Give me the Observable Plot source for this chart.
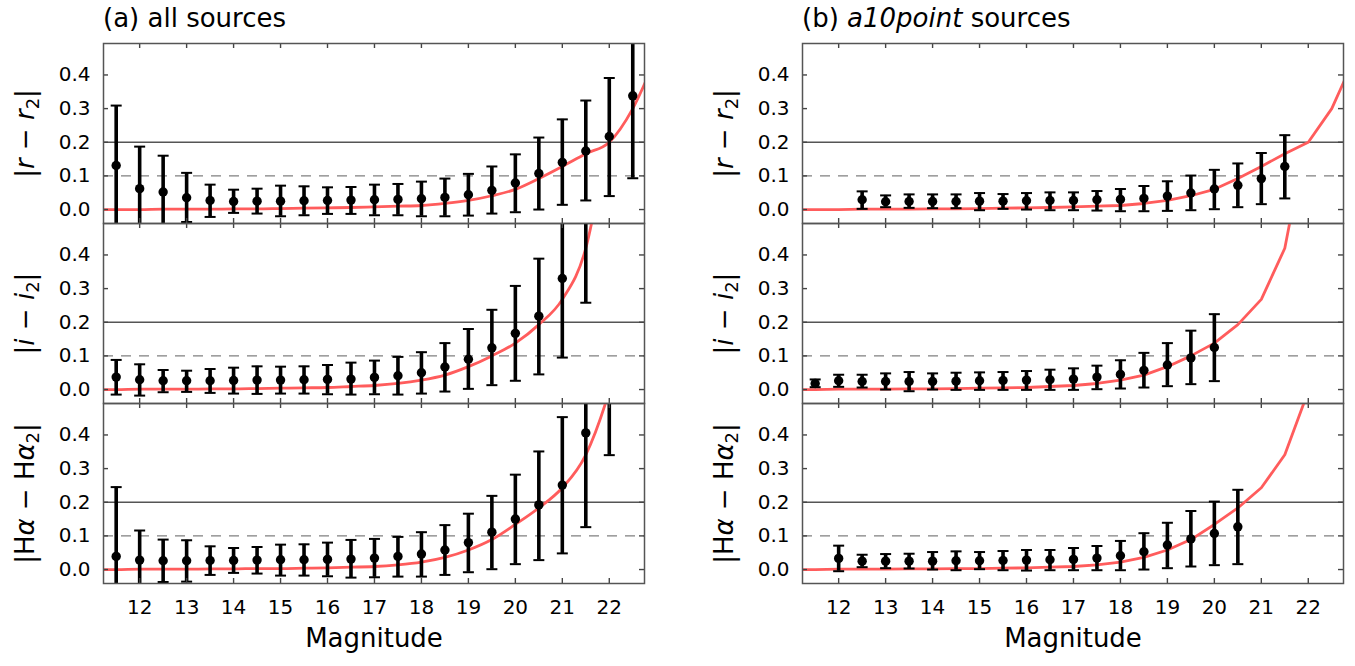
<!DOCTYPE html>
<html><head><meta charset="utf-8">
<script src="https://cdn.jsdelivr.net/npm/d3@7"></script>
<script src="https://cdn.jsdelivr.net/npm/@observablehq/plot@0.6"></script>
<style>
body{margin:0;background:#fff;}
#fig{position:relative;width:1355px;height:666px;font-family:"DejaVu Sans",sans-serif;color:#000;overflow:hidden;}
.title{position:absolute;font-size:26px;line-height:26px;white-space:nowrap;}
.panel{position:absolute;}
</style></head><body><div id="fig"></div>
<script>
// ---------- data ----------
const xTicks = [12, 13, 14, 15, 16, 17, 18, 19, 20, 21, 22];
const yTicks = [0, 0.1, 0.2, 0.3, 0.4];

// model curves (sampled every 0.5 mag)
const curveMag = [11, 11.5, 12, 12.5, 13, 13.5, 14, 14.5, 15, 15.5, 16, 16.5, 17, 17.5, 18, 18.5, 19, 19.5, 20, 20.5, 21, 21.5, 22, 22.5, 23];
const rCurve = [0, 0, 0, 0.001, 0.001, 0.001, 0.002, 0.002, 0.003, 0.004, 0.005, 0.006, 0.008, 0.010, 0.012, 0.018, 0.027, 0.041, 0.060, 0.092, 0.128, 0.166, 0.200, 0.300, 0.455];
const iCurve = [0, 0, 0.001, 0.001, 0.001, 0.002, 0.002, 0.003, 0.004, 0.005, 0.006, 0.009, 0.012, 0.018, 0.028, 0.043, 0.068, 0.100, 0.138, 0.193, 0.268, 0.420, 0.780, 1.2, 1.8];
const hCurve = [0, 0, 0.001, 0.001, 0.001, 0.002, 0.002, 0.003, 0.003, 0.004, 0.005, 0.007, 0.009, 0.014, 0.022, 0.036, 0.058, 0.089, 0.134, 0.183, 0.243, 0.341, 0.530, 0.8, 1.2];

// (a) all sources
const magA_r = [11.5, 12, 12.5, 13, 13.5, 14, 14.5, 15, 15.5, 16, 16.5, 17, 17.5, 18, 18.5, 19, 19.5, 20, 20.5, 21, 21.5, 22, 22.5];
const rA_val = [0.131, 0.062, 0.052, 0.035, 0.027, 0.024, 0.025, 0.025, 0.026, 0.027, 0.028, 0.029, 0.030, 0.032, 0.036, 0.044, 0.057, 0.079, 0.107, 0.140, 0.174, 0.217, 0.338];
const rA_lo = [-0.047, -0.063, -0.056, -0.037, -0.022, -0.010, -0.012, -0.020, -0.017, -0.013, -0.013, -0.017, -0.017, -0.020, -0.020, -0.018, -0.012, -0.008, 0.000, 0.014, 0.027, 0.040, 0.093];
const rA_hi = [0.309, 0.187, 0.160, 0.109, 0.074, 0.059, 0.062, 0.071, 0.069, 0.066, 0.067, 0.074, 0.076, 0.083, 0.092, 0.106, 0.128, 0.164, 0.214, 0.268, 0.324, 0.391, 0.583];

const magA_i = [11.5, 12, 12.5, 13, 13.5, 14, 14.5, 15, 15.5, 16, 16.5, 17, 17.5, 18, 18.5, 19, 19.5, 20, 20.5, 21, 21.5];
const iA_val = [0.037, 0.029, 0.026, 0.026, 0.026, 0.027, 0.028, 0.028, 0.029, 0.030, 0.031, 0.036, 0.041, 0.050, 0.067, 0.090, 0.124, 0.167, 0.218, 0.330, 0.530];
const iA_lo = [-0.015, -0.018, -0.008, -0.007, -0.010, -0.012, -0.013, -0.012, -0.012, -0.014, -0.015, -0.014, -0.015, -0.012, -0.006, 0.002, 0.013, 0.026, 0.045, 0.095, 0.258];
const iA_hi = [0.088, 0.075, 0.058, 0.056, 0.061, 0.065, 0.069, 0.068, 0.069, 0.073, 0.080, 0.086, 0.097, 0.111, 0.138, 0.180, 0.237, 0.308, 0.389, 0.565, 0.800];

const magA_h = [11.5, 12, 12.5, 13, 13.5, 14, 14.5, 15, 15.5, 16, 16.5, 17, 17.5, 18, 18.5, 19, 19.5, 20, 20.5, 21, 21.5, 22];
const hA_val = [0.039, 0.028, 0.026, 0.026, 0.027, 0.027, 0.028, 0.029, 0.029, 0.030, 0.031, 0.034, 0.039, 0.046, 0.058, 0.080, 0.111, 0.150, 0.192, 0.251, 0.406, 0.620];
const hA_lo = [-0.167, -0.060, -0.037, -0.036, -0.016, -0.010, -0.012, -0.018, -0.018, -0.020, -0.024, -0.023, -0.021, -0.021, -0.016, -0.008, 0.001, 0.016, 0.028, 0.048, 0.126, 0.340];
const hA_hi = [0.245, 0.116, 0.089, 0.087, 0.069, 0.064, 0.067, 0.074, 0.075, 0.080, 0.088, 0.091, 0.097, 0.111, 0.132, 0.166, 0.219, 0.282, 0.351, 0.453, 0.686, 0.900];

// (b) a10point sources
const magB_r = [12.5, 13, 13.5, 14, 14.5, 15, 15.5, 16, 16.5, 17, 17.5, 18, 18.5, 19, 19.5, 20, 20.5, 21, 21.5];
const rB_val = [0.029, 0.023, 0.024, 0.024, 0.024, 0.025, 0.025, 0.026, 0.027, 0.027, 0.029, 0.030, 0.033, 0.040, 0.049, 0.061, 0.072, 0.092, 0.128];
const rB_lo = [0.002, 0.007, 0.005, 0.004, 0.004, -0.002, 0.002, 0.000, -0.002, -0.002, -0.003, -0.005, -0.005, -0.004, -0.002, 0.001, 0.007, 0.016, 0.033];
const rB_hi = [0.054, 0.042, 0.045, 0.045, 0.045, 0.049, 0.046, 0.049, 0.051, 0.051, 0.055, 0.061, 0.070, 0.084, 0.101, 0.118, 0.137, 0.168, 0.221];

const magB_i = [11.5, 12, 12.5, 13, 13.5, 14, 14.5, 15, 15.5, 16, 16.5, 17, 17.5, 18, 18.5, 19, 19.5, 20];
const iB_val = [0.018, 0.026, 0.024, 0.024, 0.024, 0.024, 0.025, 0.026, 0.027, 0.028, 0.029, 0.031, 0.037, 0.045, 0.057, 0.073, 0.094, 0.125];
const iB_lo = [0.007, 0.008, 0.006, 0.000, -0.005, 0.000, -0.001, -0.001, -0.001, -0.001, -0.001, -0.001, 0.001, 0.003, 0.006, 0.010, 0.016, 0.025];
const iB_hi = [0.030, 0.044, 0.044, 0.048, 0.052, 0.048, 0.050, 0.051, 0.052, 0.055, 0.059, 0.063, 0.071, 0.087, 0.109, 0.138, 0.175, 0.224];

const magB_h = [12, 12.5, 13, 13.5, 14, 14.5, 15, 15.5, 16, 16.5, 17, 17.5, 18, 18.5, 19, 19.5, 20, 20.5];
const hB_val = [0.033, 0.025, 0.025, 0.025, 0.025, 0.026, 0.026, 0.027, 0.028, 0.029, 0.030, 0.034, 0.041, 0.053, 0.073, 0.091, 0.107, 0.127];
const hB_lo = [-0.005, 0.007, 0.004, 0.003, 0.000, -0.002, 0.001, -0.002, -0.003, -0.002, -0.002, -0.002, -0.002, 0.000, 0.004, 0.009, 0.013, 0.016];
const hB_hi = [0.071, 0.044, 0.046, 0.047, 0.052, 0.054, 0.052, 0.055, 0.058, 0.058, 0.064, 0.070, 0.085, 0.108, 0.139, 0.174, 0.202, 0.237];

// y-axis labels: [text, style]
const labelR = [["|", ""], ["r", "i"], [" − ", ""], ["r", "i"], ["2", "sub"], ["|", "back"]];
const labelI = [["|", ""], ["i", "i"], [" − ", ""], ["i", "i"], ["2", "sub"], ["|", "back"]];
const labelH = [["|H", ""], ["α", "i"], [" − H", ""], ["α", "i"], ["2", "sub"], ["|", "back"]];

// ---------- layout ----------
const W = 541, H = 180;
const xDomain = [11.23, 22.75];
const yDomain = [-0.0415, 0.4935];
const colLeft = [103, 802];
const rowTop = [43, 223, 403];
const fig = document.getElementById("fig");
const FONT = "'DejaVu Sans', sans-serif";

const capSymbol = {draw(ctx, size) { const w = Math.sqrt(size / Math.PI); ctx.moveTo(-w, 0); ctx.lineTo(w, 0); }};

function panel(col, row, mags, val, lo, hi, curveVals, label) {
  const data = mags.map((m, k) => ({m, v: val[k], lo: lo[k], hi: hi[k]}));
  const curve = curveMag.map((m, k) => ({m, v: curveVals[k]}));
  const bottom = row === 2;
  const mL = 100, mR = 6, mT = 0, mB = bottom ? 83 : 0;
  const key = "LBL" + col + row;
  const p = Plot.plot({
    width: mL + W + mR, height: mT + H + mB,
    marginLeft: mL, marginRight: mR, marginTop: mT, marginBottom: mB,
    style: {background: "transparent", overflow: "visible", fontFamily: FONT, fontSize: "20px", color: "#000"},
    x: {domain: xDomain, ticks: xTicks, tickFormat: "d", tickSize: 0, tickPadding: 16, label: null, axis: bottom ? "bottom" : null},
    y: {domain: yDomain, ticks: yTicks, tickFormat: ".1f", tickSize: 0, tickPadding: 13, label: null},
    marks: [
      Plot.ruleY([0.2], {stroke: "#555", strokeWidth: 1.3}),
      Plot.ruleY([0.1], {stroke: "#808080", strokeWidth: 1.3, strokeDasharray: "10,8"}),
      Plot.line(curve, {x: "m", y: "v", stroke: "#ff5c5c", strokeWidth: 2.8, curve: col === 0 ? "monotone-x" : "linear", clip: true}),
      Plot.ruleX(data, {x: "m", y1: "lo", y2: "hi", stroke: "#000", strokeWidth: 3.6, clip: true}),
      Plot.dot(data, {x: "m", y: "hi", symbol: capSymbol, r: 5.5, stroke: "#000", strokeWidth: 2, clip: true}),
      Plot.dot(data, {x: "m", y: "lo", symbol: capSymbol, r: 5.5, stroke: "#000", strokeWidth: 2, clip: true}),
      Plot.dot(data, {x: "m", y: "v", r: 4.7, fill: "#000", stroke: null, clip: true}),
      Plot.tickX(xTicks, {insetTop: H - 5, stroke: "#444", strokeWidth: 1.4}),
      Plot.tickX(xTicks, {insetBottom: H - 5, stroke: "#444", strokeWidth: 1.4}),
      Plot.tickY(yTicks, {insetLeft: W - 5, stroke: "#444", strokeWidth: 1.4}),
      Plot.tickY(yTicks, {insetRight: W - 5, stroke: "#444", strokeWidth: 1.4}),
      Plot.frame({stroke: "#555", strokeWidth: 1.5}),
      Plot.text([key], {frameAnchor: "left", dx: -78, rotate: -90, textAnchor: "middle", fontSize: 26, fill: "#000"}),
      bottom ? Plot.text(["Magnitude"], {frameAnchor: "bottom", dy: 63, textAnchor: "middle", fontSize: 26, fill: "#000"}) : null
    ]
  });
  // rich y label
  p.querySelectorAll("text").forEach(t => {
    if (t.textContent === key) {
      while (t.firstChild) t.removeChild(t.firstChild);
      const s = d3.select(t);
      label.forEach(([txt, st]) => {
        const ts = s.append("tspan").text(txt);
        if (st === "i") ts.attr("font-style", "italic");
        if (st === "sub") ts.attr("font-size", 18).attr("dy", 5);
        if (st === "back") ts.attr("dy", -5);
      });
      t.setAttribute("xml:space", "preserve");
    }
  });
  const div = document.createElement("div");
  div.className = "panel";
  div.style.left = (colLeft[col] - mL) + "px";
  div.style.top = (rowTop[row] - mT) + "px";
  div.style.width = (mL + W + mR) + "px";
  div.appendChild(p);
  fig.appendChild(div);
}

panel(0, 0, magA_r, rA_val, rA_lo, rA_hi, rCurve, labelR);
panel(0, 1, magA_i, iA_val, iA_lo, iA_hi, iCurve, labelI);
panel(0, 2, magA_h, hA_val, hA_lo, hA_hi, hCurve, labelH);
panel(1, 0, magB_r, rB_val, rB_lo, rB_hi, rCurve, labelR);
panel(1, 1, magB_i, iB_val, iB_lo, iB_hi, iCurve, labelI);
panel(1, 2, magB_h, hB_val, hB_lo, hB_hi, hCurve, labelH);

// titles
const tA = document.createElement("div");
tA.className = "title"; tA.style.left = colLeft[0] + "px"; tA.style.top = "5px";
tA.textContent = "(a) all sources";
fig.appendChild(tA);
const tB = document.createElement("div");
tB.className = "title"; tB.style.left = colLeft[1] + "px"; tB.style.top = "5px";
tB.innerHTML = "(b) <i>a10point</i> sources";
fig.appendChild(tB);
</script>
</body></html>
